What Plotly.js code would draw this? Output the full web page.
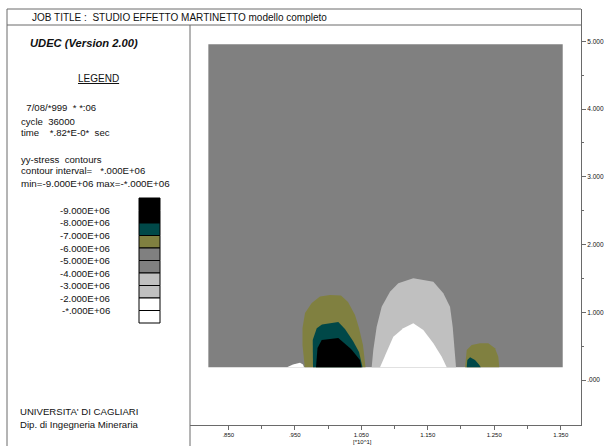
<!DOCTYPE html>
<html>
<head>
<meta charset="utf-8">
<script src="https://cdn.plot.ly/plotly-3.0.1.min.js"></script>
<style>html,body{margin:0;padding:0;background:#fff;}#chart{width:609px;height:446px;}</style>
</head>
<body>
<div id="chart"></div>
<script>
// ---------- data ----------
const xTickVals = [0.85, 0.95, 1.05, 1.15, 1.25, 1.35];
const xTickText = ['.850', '.950', '1.050', '1.150', '1.250', '1.350'];
const yTickVals = [0, 1, 2, 3, 4, 5];
const yTickText = ['.000', '1.000', '2.000', '3.000', '4.000', '5.000'];

const levelLabels = ['-9.000E+06', '-8.000E+06', '-7.000E+06', '-6.000E+06', '-5.000E+06',
                     '-4.000E+06', '-3.000E+06', '-2.000E+06', '-*.000E+06'];
const levelColors = ['#000000', '#000000', '#004848', '#808040', '#808080',
                     '#808080', '#c0c0c0', '#c0c0c0', '#ffffff', '#ffffff'];

// model block (background, contour band -5/-4E+06)
const modelX = [0.82, 1.353, 1.353, 0.82];
const modelY = [0.19, 0.19, 4.955, 4.955];

// middle arch: light grey band
const archOuterX = [1.0657, 1.0681, 1.0732, 1.0807, 1.0932, 1.1057, 1.1283, 1.1584, 1.1734, 1.1835, 1.1875, 1.1910, 1.1925];
const archOuterY = [0.19, 0.443, 0.787, 1.082, 1.304, 1.427, 1.501, 1.451, 1.280, 1.082, 0.787, 0.443, 0.19];
// middle arch: white core
const archInnerX = [1.0782, 1.0857, 1.0982, 1.1132, 1.1283, 1.1433, 1.1584, 1.1710, 1.1785];
const archInnerY = [0.19, 0.369, 0.639, 0.763, 0.837, 0.738, 0.542, 0.344, 0.19];

// left lobe
const leftOliveX = [0.9650, 0.9616, 0.9616, 0.9654, 0.9755, 0.9879, 1.0030, 1.0195, 1.0301, 1.0406, 1.0466, 1.0526, 1.0564];
const leftOliveY = [0.19, 0.517, 0.768, 0.989, 1.137, 1.233, 1.255, 1.247, 1.151, 0.960, 0.768, 0.517, 0.19];
const leftTealX = [0.9774, 0.9770, 0.9830, 0.9909, 1.0155, 1.0255, 1.0376, 1.0466, 1.0519];
const leftTealY = [0.19, 0.590, 0.763, 0.819, 0.856, 0.753, 0.576, 0.413, 0.19];
const leftBlackX = [0.9819, 0.9842, 0.9905, 1.0155, 1.0346, 1.0481, 1.0504];
const leftBlackY = [0.19, 0.472, 0.590, 0.620, 0.458, 0.295, 0.19];

// right lobe
const rightOliveX = [1.2061, 1.2086, 1.2161, 1.2286, 1.2411, 1.2512, 1.2561, 1.2576];
const rightOliveY = [0.19, 0.443, 0.517, 0.542, 0.542, 0.468, 0.344, 0.19];
const rightTealX = [1.2086, 1.2095, 1.2136, 1.2211, 1.2276, 1.2297];
const rightTealY = [0.19, 0.295, 0.335, 0.295, 0.221, 0.19];

// small white bump at the left foot
const bumpX = [0.9383, 0.9473, 0.9579, 0.9624, 0.9639];
const bumpY = [0.19, 0.229, 0.255, 0.229, 0.19];

// ---------- layout helpers (pixel -> paper) ----------
const L = 190, R = 28, T = 9, B = 21, W = 609, H = 446;
const pw = W - L - R, ph = H - T - B;
const PX = p => (p - L) / pw;
const PY = p => (H - B - p) / ph;

const FONT = 'Liberation Sans, Arial, sans-serif';
const TXT = '#111111';
const LINE = '#6a6a6a';
const S = '\u00a0';

function region(x, y, color) {
  return {type: 'scatter', mode: 'lines', x: x, y: y, fill: 'toself', fillcolor: color,
          line: {width: 0, color: color}, hoverinfo: 'skip', showlegend: false};
}

const traces = [
  region(modelX, modelY, '#808080'),
  region(archOuterX, archOuterY, '#c0c0c0'),
  region(archInnerX, archInnerY, '#ffffff'),
  region(leftOliveX, leftOliveY, '#808040'),
  region(leftTealX, leftTealY, '#004848'),
  region(leftBlackX, leftBlackY, '#000000'),
  region(rightOliveX, rightOliveY, '#808040'),
  region(rightTealX, rightTealY, '#004848'),
  region(bumpX, bumpY, '#ffffff')
];

const shapes = [];
function hline(x0, x1, y) {
  shapes.push({type: 'line', xref: 'paper', yref: 'paper', x0: PX(x0), x1: PX(x1), y0: PY(y), y1: PY(y),
               line: {color: LINE, width: 1}});
}
function vline(x, y0, y1) {
  shapes.push({type: 'line', xref: 'paper', yref: 'paper', x0: PX(x), x1: PX(x), y0: PY(y0), y1: PY(y1),
               line: {color: LINE, width: 1}});
}
hline(7, 581, 9);
hline(7, 581, 25);
vline(7, 9, 446);
vline(190, 25, 446);

// legend colour boxes
levelColors.forEach((c, i) => {
  shapes.push({type: 'rect', xref: 'paper', yref: 'paper',
               x0: PX(139), x1: PX(160), y0: PY(198 + 12.5 * i), y1: PY(198 + 12.5 * (i + 1)),
               fillcolor: c, line: {color: '#000000', width: 1}});
});

const annotations = [];
function txt(text, x, y, size, extra) {
  annotations.push(Object.assign({xref: 'paper', yref: 'paper', x: PX(x), y: PY(y), text: text,
    showarrow: false, xanchor: 'left', yanchor: 'middle',
    font: {family: FONT, size: size, color: TXT}}, extra || {}));
}
txt('JOB TITLE :' + S + S + 'STUDIO EFFETTO MARTINETTO modello completo', 30, 17, 10);
txt('<b><i>UDEC (Version 2.00)</i></b>', 28, 43, 11.2);
txt('<u>LEGEND</u>', 98, 79, 10, {xanchor: 'center'});
txt(S + S + '7/08/*999' + S + S + '* *:06', 19, 107.5, 9.6);
txt('cycle' + S + S + '36000', 19, 121, 9.6);
txt('time' + S + S + S + S + '*.82*E-0*' + S + S + 'sec', 19, 132.5, 9.6);
txt('yy-stress' + S + S + 'contours', 19, 159, 9.6);
txt('contour interval=' + S + S + S + '*.000E+06', 19, 171, 9.6);
txt('min=-9.000E+06 max=-*.000E+06', 19, 183.5, 9.8);
levelLabels.forEach((s, i) => txt(s, 112, 210.5 + 12.5 * i, 9.6, {xanchor: 'right'}));
txt("UNIVERSITA' DI CAGLIARI", 18, 411, 9.6);
txt('Dip. di Ingegneria Mineraria', 18, 424, 9.6);
txt('[*10^1]', 362, 442, 6, {xanchor: 'center'});

const layout = {
  width: W, height: H,
  margin: {l: L, r: R, t: T, b: B, pad: 0},
  paper_bgcolor: '#ffffff', plot_bgcolor: '#ffffff',
  showlegend: false,
  xaxis: {
    range: [0.7924, 1.3805], showgrid: false, zeroline: false,
    showline: true, linecolor: LINE, linewidth: 1,
    tickmode: 'array', tickvals: xTickVals, ticktext: xTickText,
    ticks: 'outside', ticklen: 4, tickcolor: LINE, tickwidth: 1,
    tickfont: {family: FONT, size: 6, color: TXT},
    minor: {tickmode: 'array', tickvals: [0.9, 1.0, 1.1, 1.2, 1.3], ticks: 'outside', ticklen: 3, tickcolor: LINE},
    fixedrange: true
  },
  yaxis: {
    range: [-0.664, 5.477], side: 'right', showgrid: false, zeroline: false,
    showline: true, linecolor: LINE, linewidth: 1,
    tickmode: 'array', tickvals: yTickVals, ticktext: yTickText,
    ticks: 'outside', ticklen: 4, tickcolor: LINE, tickwidth: 1,
    tickfont: {family: FONT, size: 6.5, color: TXT},
    minor: {tickmode: 'array', tickvals: [0.5, 1.5, 2.5, 3.5, 4.5], ticks: 'outside', ticklen: 2, tickcolor: LINE},
    fixedrange: true
  },
  shapes: shapes,
  annotations: annotations
};

Plotly.newPlot('chart', traces, layout, {staticPlot: true, displayModeBar: false});
</script>
</body>
</html>
